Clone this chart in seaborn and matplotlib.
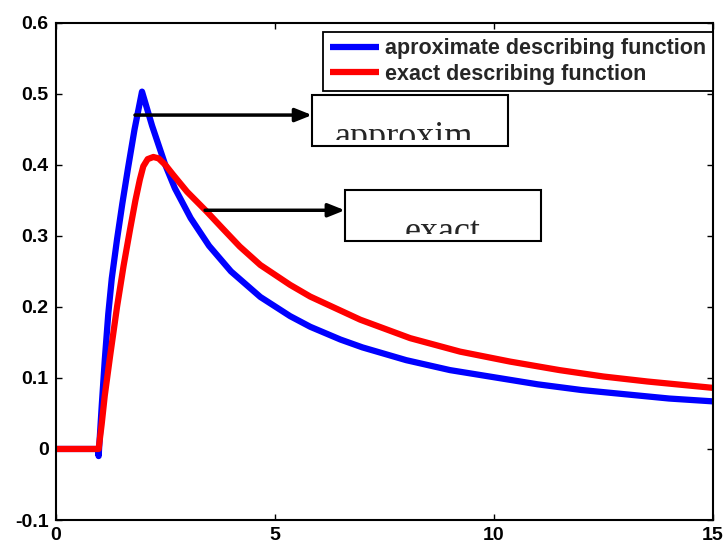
import numpy as np
import pandas as pd
import seaborn as sns
import matplotlib
matplotlib.use("Agg")
import matplotlib.pyplot as plt
from matplotlib.patches import Rectangle
from matplotlib.transforms import Bbox, TransformedBbox

# ---- data ----
t_approx = [0, 0.96, 0.98, 1.05, 1.12, 1.2, 1.28, 1.4, 1.52, 1.65, 1.8, 1.97,
            2.2, 2.5, 2.72, 3.08, 3.5, 4.0, 4.67, 5.35, 5.81, 6.5, 7.0, 8.0,
            9.0, 10.0, 11.0, 12.0, 13.0, 14.0, 15.0]
v_approx = [0, 0, -0.01, 0.06, 0.125, 0.19, 0.24, 0.295, 0.345, 0.395, 0.45,
            0.503, 0.455, 0.40, 0.367, 0.325, 0.286, 0.25, 0.214, 0.187, 0.172,
            0.154, 0.143, 0.125, 0.111, 0.101, 0.091, 0.083, 0.077, 0.071, 0.067]

t_exact = [0, 0.98, 1.05, 1.12, 1.24, 1.4, 1.55, 1.7, 1.82, 1.92, 2.0, 2.1,
           2.23, 2.35, 2.5, 2.68, 3.0, 3.45, 3.8, 4.2, 4.67, 5.35, 5.81, 6.95,
           8.09, 9.23, 10.37, 11.5, 12.5, 13.5, 15.0]
v_exact = [0, 0, 0.035, 0.075, 0.13, 0.2, 0.258, 0.31, 0.35, 0.379, 0.398,
           0.408, 0.411, 0.409, 0.400, 0.386, 0.362, 0.334, 0.311, 0.285, 0.259,
           0.231, 0.2145, 0.182, 0.156, 0.137, 0.123, 0.111, 0.102, 0.095, 0.086]

label_approx = "aproximate describing function"
label_exact = "exact describing function"
x_ticks = [0, 5, 10, 15]
y_ticks = [-0.1, 0, 0.1, 0.2, 0.3, 0.4, 0.5, 0.6]
y_tick_labels = ["-0.1", "0", "0.1", "0.2", "0.3", "0.4", "0.5", "0.6"]

df = pd.concat([
    pd.DataFrame({"t": t_approx, "v": v_approx, "series": label_approx}),
    pd.DataFrame({"t": t_exact, "v": v_exact, "series": label_exact}),
], ignore_index=True)

sns.set_style("ticks")
plt.rcParams["font.family"] = ["Liberation Sans", "DejaVu Sans"]

fig = plt.figure(figsize=(7.26, 5.46), dpi=100)
ax = fig.add_axes([0.0767, 0.0476, 0.9053, 0.9108])

sns.lineplot(data=df, x="t", y="v", hue="series", sort=False,
             palette={label_approx: "#0000ff", label_exact: "#ff0000"},
             linewidth=4.5, ax=ax, estimator=None)
for ln in ax.get_lines():
    ln.set_solid_joinstyle("round")
    ln.set_solid_capstyle("round")

ax.set_xlim(0, 15)
ax.set_ylim(-0.1, 0.6)
ax.set_xticks(x_ticks)
ax.set_xticklabels([str(v) for v in x_ticks])
ax.set_yticks(y_ticks)
ax.set_yticklabels(y_tick_labels)
ax.set_xlabel("")
ax.set_ylabel("")
ax.tick_params(direction="in", length=4, width=1, top=True, right=True,
               labelsize=14, colors="black")
ax.tick_params(axis="x", pad=5)
ax.tick_params(axis="y", pad=5)
for lab in ax.get_xticklabels() + ax.get_yticklabels():
    lab.set_fontweight("bold")
for s in ax.spines.values():
    s.set_visible(True)
    s.set_linewidth(1.5)
    s.set_color("black")

leg = ax.legend(loc="upper right", bbox_to_anchor=(1.0, 0.982),
                borderaxespad=0, frameon=True, fancybox=False, framealpha=1,
                edgecolor="black", handlelength=2.3, handletextpad=0.28,
                labelspacing=0.22, borderpad=0.3,
                prop={"weight": "bold", "size": 15.5})
leg.get_frame().set_linewidth(1.3)
for ln in leg.get_lines():
    ln.set_linewidth(4.5)
    ln.set_solid_capstyle("butt")

# ---- annotation boxes with arrows ----
def add_box(x0, y0, x1, y1, text, tx, ty, clip_y):
    rect = Rectangle((x0, y0), x1 - x0, y1 - y0, fill=False, edgecolor="black",
                     linewidth=1.5, zorder=5)
    ax.add_patch(rect)
    txt = ax.text(tx, ty, text, family=["Liberation Serif", "DejaVu Serif"],
                  fontsize=26, va="baseline", ha="left", zorder=6)
    cb = TransformedBbox(Bbox([[x0, clip_y], [x1, y1]]), ax.transData)
    txt.set_clip_box(cb)
    txt.set_clip_on(True)

add_box(5.85, 0.4265, 10.32, 0.498, "approxim", 6.38, 0.4265, 0.435)
add_box(6.60, 0.2928, 11.08, 0.3646, "exact", 7.97, 0.2928, 0.303)

ax.annotate("", xy=(5.85, 0.470), xytext=(1.81, 0.470),
            arrowprops=dict(arrowstyle="-|>,head_length=1.0,head_width=0.4",
                            color="black", lw=2.5, shrinkA=0, shrinkB=0),
            zorder=6)
ax.annotate("", xy=(6.60, 0.336), xytext=(3.41, 0.336),
            arrowprops=dict(arrowstyle="-|>,head_length=1.0,head_width=0.4",
                            color="black", lw=2.5, shrinkA=0, shrinkB=0),
            zorder=6)

fig.savefig("out.png", dpi=100)
